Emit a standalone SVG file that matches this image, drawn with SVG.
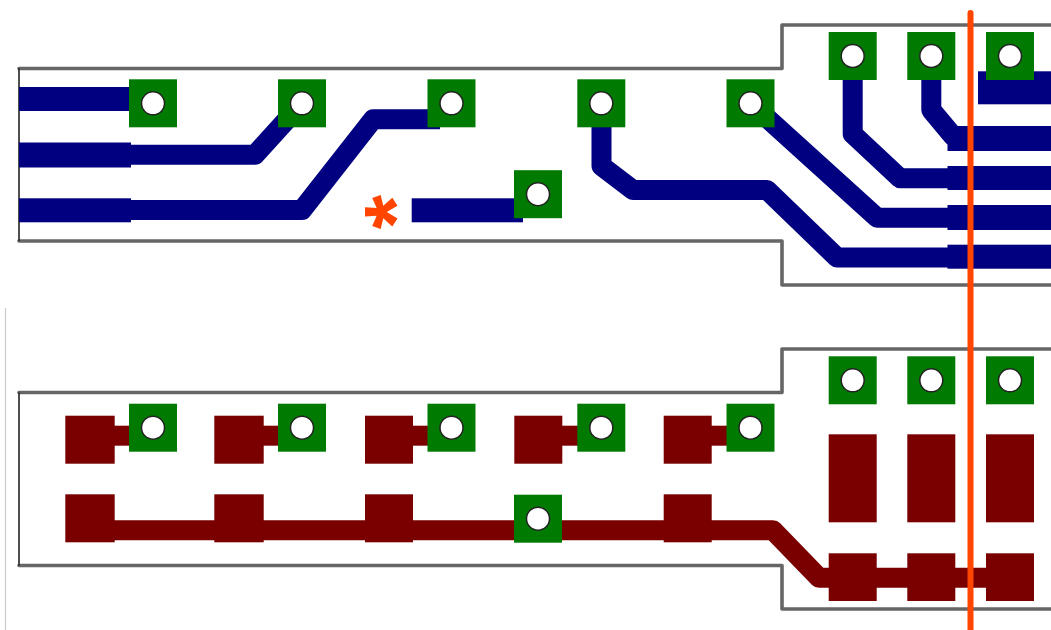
<svg xmlns="http://www.w3.org/2000/svg" xmlns:xlink="http://www.w3.org/1999/xlink" width="1051" height="630" viewBox="0 0 1051 630">
<style>
.edge{fill:none;stroke:#666;stroke-width:3.6;stroke-linejoin:round;stroke-linecap:round}
.side{fill:none;stroke:#222;stroke-width:1.6}
.nt{fill:none;stroke:#000080;stroke-width:20;stroke-linejoin:round}
.mt{fill:none;stroke:#7a0000;stroke-width:20;stroke-linejoin:round}
.nb{fill:#000080}
.mb{fill:#7a0000}
.pad{fill:#007a00}
.hole{fill:#fff;stroke:#222;stroke-width:1.5}
</style>
<defs>
<g id="via"><rect class="pad" x="-24" y="-24" width="48" height="48"/><circle class="hole" r="11.5"/></g>
</defs>
<rect width="1051" height="630" fill="#fff"/>
<line x1="5.5" y1="308" x2="5.5" y2="630" stroke="#ccc" stroke-width="1.2"/>
<g id="outline">
<path class="edge" d="M19 68.5H782V25H1051"/>
<path class="edge" d="M19 241H782V285H1051"/>
<path class="side" d="M19 68.5V241"/>
<path class="edge" d="M19 392.5H782V349H1051"/>
<path class="edge" d="M19 565.5H782V609H1051"/>
<path class="side" d="M19 392.5V565.5"/>
</g>
<g id="connectors">
<path class="nt" d="M130 154.7H255L302 103"/>
<path class="nt" d="M130 210H302L373 119.3H440"/>
<path class="nt" d="M601.5 103V166L633 190H767L837 257.5H950"/>
<path class="nt" d="M750.5 103L877 217.7H950"/>
<path class="nt" d="M852.7 57V134L900 178.3H950"/>
<path class="nt" d="M931.3 57V110L953 136H1000"/>
<path class="mt" d="M114 435.7H130"/>
<path class="mt" d="M263 435.7H279"/>
<path class="mt" d="M413 435.7H428"/>
<path class="mt" d="M562 435.7H578"/>
<path class="mt" d="M711 435.7H727"/>
<path class="mt" d="M114 530.3H773L819 577.7H986"/>
</g>
<g id="copper-top">
<rect class="nb" x="19" y="87" width="111" height="24"/>
<rect class="nb" x="19" y="142.5" width="112" height="25"/>
<rect class="nb" x="19" y="198.3" width="112" height="24"/>
<rect class="nb" x="411.7" y="198.3" width="111.3" height="24"/>
<rect class="nb" x="978" y="71.3" width="73" height="33"/>
<rect class="nb" x="947.5" y="126" width="103.5" height="25"/>
<rect class="nb" x="947.5" y="166" width="103.5" height="24"/>
<rect class="nb" x="947.5" y="205" width="103.5" height="25"/>
<rect class="nb" x="947.5" y="244.7" width="103.5" height="24"/>
</g>
<g id="copper-bottom">
<rect class="mb" x="65.3" y="415.7" width="49.4" height="48"/>
<rect class="mb" x="214.3" y="415.7" width="49.4" height="48"/>
<rect class="mb" x="365" y="415.7" width="48" height="48"/>
<rect class="mb" x="514.3" y="415.7" width="48" height="48"/>
<rect class="mb" x="663.7" y="415.7" width="48" height="48"/>
<rect class="mb" x="65.3" y="494.3" width="49.4" height="48"/>
<rect class="mb" x="214.3" y="494.3" width="49.4" height="48"/>
<rect class="mb" x="365" y="494.3" width="48" height="48"/>
<rect class="mb" x="663.7" y="494.3" width="48" height="48"/>
<rect class="mb" x="828.7" y="434.3" width="48" height="88"/>
<rect class="mb" x="907.3" y="434.3" width="48" height="88"/>
<rect class="mb" x="986" y="434.3" width="48" height="88"/>
<rect class="mb" x="828.7" y="553.3" width="48" height="47.7"/>
<rect class="mb" x="907.3" y="553.3" width="48" height="47.7"/>
<rect class="mb" x="986" y="553.3" width="48" height="47.7"/>
</g>
<g id="via-t1"><use xlink:href="#via" href="#via" x="153" y="103.3"/></g>
<g id="via-t2"><use xlink:href="#via" href="#via" x="302" y="103.3"/></g>
<g id="via-t3"><use xlink:href="#via" href="#via" x="451.5" y="103.3"/></g>
<g id="via-t4"><use xlink:href="#via" href="#via" x="601.3" y="103.3"/></g>
<g id="via-t5"><use xlink:href="#via" href="#via" x="750.5" y="103.3"/></g>
<g id="via-t6"><use xlink:href="#via" href="#via" x="538" y="194.2"/></g>
<g id="via-t7"><use xlink:href="#via" href="#via" x="852.7" y="56"/></g>
<g id="via-t8"><use xlink:href="#via" href="#via" x="931.3" y="56"/></g>
<g id="via-t9"><use xlink:href="#via" href="#via" x="1010" y="56"/></g>
<g id="via-b1"><use xlink:href="#via" href="#via" x="153" y="427.7"/></g>
<g id="via-b2"><use xlink:href="#via" href="#via" x="302" y="427.7"/></g>
<g id="via-b3"><use xlink:href="#via" href="#via" x="451.5" y="427.7"/></g>
<g id="via-b4"><use xlink:href="#via" href="#via" x="601.3" y="427.7"/></g>
<g id="via-b5"><use xlink:href="#via" href="#via" x="750.5" y="427.7"/></g>
<g id="via-b6"><use xlink:href="#via" href="#via" x="538" y="518.7"/></g>
<g id="via-b7"><use xlink:href="#via" href="#via" x="852.7" y="380.3"/></g>
<g id="via-b8"><use xlink:href="#via" href="#via" x="931.3" y="380.3"/></g>
<g id="via-b9"><use xlink:href="#via" href="#via" x="1010" y="380.3"/></g>
<line id="cut" x1="970.5" y1="13" x2="970.5" y2="633" stroke="#ff4500" stroke-width="6" stroke-linecap="round"/>
<text id="mark" transform="translate(396 212) rotate(-90)" x="0" y="0" dy="29" text-anchor="middle" font-family="'Liberation Sans',Arial,sans-serif" font-weight="bold" font-size="88" fill="#ff4500">*</text>
</svg>
